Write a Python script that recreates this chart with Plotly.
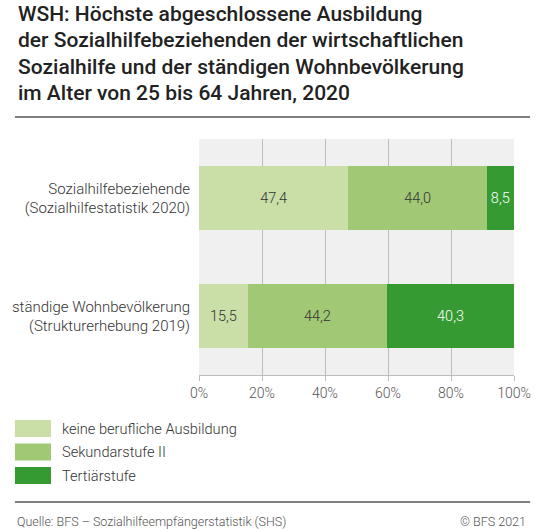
import plotly.graph_objects as go

# data
groups = ["Sozialhilfebeziehende<br>(Sozialhilfestatistik 2020)",
          "ständige Wohnbevölkerung<br>(Strukturerhebung 2019)"]
levels = ["keine berufliche Ausbildung", "Sekundarstufe II", "Tertiärstufe"]
shares = {
    "keine berufliche Ausbildung": [47.4, 15.5],
    "Sekundarstufe II": [44.0, 44.2],
    "Tertiärstufe": [8.5, 40.3],
}
x_ticks = [0, 20, 40, 60, 80, 100]
x_labels = ["0%", "20%", "40%", "60%", "80%", "100%"]

colors = ["#c9dfa7", "#a1c975", "#369a33"]
text_colors = ["#333333", "#333333", "#ffffff"]

W, H = 543, 529
L, R, T, B = 194, 17, 139, 154
FONT = "Roboto"


def px(x):
    return (x - L) / (W - L - R)


def py(y):
    return 1 - (y - T) / (H - T - B)


fig = go.Figure()

for lvl, col, tcol in zip(levels, colors, text_colors):
    fig.add_trace(go.Bar(
        y=groups, x=shares[lvl], name=lvl, orientation="h",
        marker=dict(color=col, line=dict(width=0)),
        texttemplate="%{x:.1f}", textposition="inside",
        insidetextanchor="middle",
        textfont=dict(family=FONT, size=14.5, color=tcol, weight=300),
        width=0.55, showlegend=False, hoverinfo="skip",
    ))

title_lines = ["WSH: Höchste abgeschlossene Ausbildung",
               "der Sozialhilfebeziehenden der wirtschaftlichen",
               "Sozialhilfe und der ständigen Wohnbevölkerung",
               "im Alter von 25 bis 64 Jahren, 2020"]

annotations = []
for i, line in enumerate(title_lines):
    annotations.append(dict(
        text=line, x=px(1), y=py(14 + i * 26.3), xref="paper", yref="paper",
        xanchor="left", yanchor="middle", align="left", showarrow=False,
        font=dict(family=FONT, size=21, color="#222222", weight=500)))

shapes = [
    dict(type="line", xref="paper", yref="paper", x0=px(0), x1=px(W),
         y0=py(117), y1=py(117), line=dict(color="#555555", width=1.5)),
    dict(type="line", xref="paper", yref="paper", x0=px(0), x1=px(W),
         y0=py(502), y1=py(502), line=dict(color="#555555", width=1.5)),
]

# legend drawn by hand to get the wide swatches
for i, (lvl, col) in enumerate(zip(levels, colors)):
    yc = 428.5 + i * 23.5
    shapes.append(dict(type="rect", xref="paper", yref="paper",
                       x0=px(0), x1=px(38), y0=py(yc - 8.5), y1=py(yc + 8.5),
                       fillcolor=col, line=dict(width=0)))
    annotations.append(dict(
        text=lvl, x=px(47), y=py(yc), xref="paper", yref="paper",
        xanchor="left", yanchor="middle", showarrow=False,
        font=dict(family=FONT, size=14.6, color="#333333", weight=300)))

annotations += [
    dict(text="Quelle: BFS – Sozialhilfeempfängerstatistik (SHS)",
         x=px(0), y=py(521), xref="paper", yref="paper", xanchor="left",
         yanchor="middle", showarrow=False,
         font=dict(family=FONT, size=12.5, color="#555555", weight=300)),
    dict(text="© BFS 2021", x=px(541), y=py(521), xref="paper", yref="paper",
         xanchor="right", yanchor="middle", showarrow=False,
         font=dict(family=FONT, size=12.5, color="#555555", weight=300)),
]

fig.update_layout(
    width=W, height=H, autosize=False, barmode="stack", separators=",.",
    margin=dict(l=L, r=R, t=T, b=B, pad=0),
    paper_bgcolor="white", plot_bgcolor="#f0f0f0",
    font=dict(family=FONT, color="#333333"),
    xaxis=dict(range=[0, 100], tickvals=x_ticks, ticktext=x_labels,
               showgrid=True, gridcolor="#bdbdbd", gridwidth=1,
               zeroline=False, showline=True, linecolor="#bdbdbd",
               ticks="outside", ticklen=5, tickcolor="#bdbdbd",
               tickfont=dict(family=FONT, size=14, color="#555555", weight=300),
               fixedrange=True),
    yaxis=dict(categoryorder="array", categoryarray=groups[::-1],
               showgrid=False, zeroline=False, ticks="", ticklen=0,
               ticklabelstandoff=8,
               tickfont=dict(family=FONT, size=15, color="#333333", weight=300),
               fixedrange=True),
    shapes=shapes, annotations=annotations,
)

# page body has a default 8px margin; drop it and any scrollbar
post = """
var css = document.createElement('style');
css.textContent = 'html,body{margin:0;padding:0;overflow:hidden;}';
document.head.appendChild(css);
"""
fig.write_html("out.html", config={"displayModeBar": False}, post_script=post)
